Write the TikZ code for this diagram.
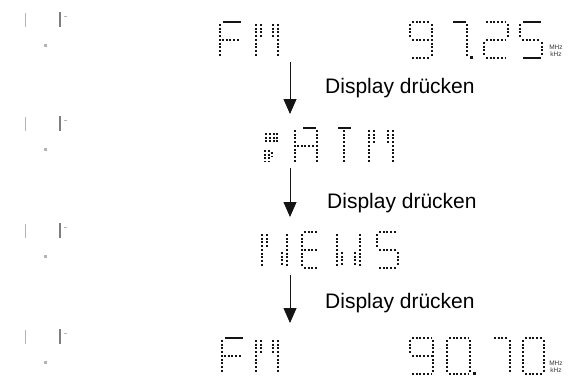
\documentclass[tikz,border=0pt]{standalone}
\usepackage{fontspec}
\setmainfont{Liberation Sans}
\usetikzlibrary{arrows.meta}
\definecolor{lcdInk}{HTML}{141414}
\definecolor{scanGray}{HTML}{B4B4B4}
\tikzset{
  lcddot/.style={lcdInk, line width=2pt, dash pattern=on 2pt off 1.7pt, shorten <=2pt, shorten >=2pt},
  lcdbar/.style={lcdInk, line width=2pt, shorten <=3pt, shorten >=1pt},
  steparr/.style={-{Triangle[length=15pt, width=13pt]}, lcdInk, line width=0.8pt},
  steplabel/.style={anchor=base west, font=\fontsize{21}{25}\selectfont, inner sep=0pt},
  unitlabel/.style={font=\fontsize{6.5}{6.5}\selectfont, align=center, inner sep=0pt, text=lcdInk!85},
}
% one dot-matrix character: x, top y, width, dotted segments, solid segments
\newcommand{\lcdchar}[5]{%
  \begin{scope}[shift={(#1,#2)}]
    \coordinate (tl) at (0,0);  \coordinate (tr) at (#3,0);
    \coordinate (ml) at (0,18); \coordinate (mr) at (#3,18);
    \coordinate (bl) at (0,36); \coordinate (br) at (#3,36);
    \coordinate (tli) at (5,0);  \coordinate (tri) at (#3-5,0);
    \coordinate (mli) at (5,18); \coordinate (mri) at (#3-5,18);
    \coordinate (bli) at (5,36); \coordinate (bri) at (#3-5,36);
    \coordinate (tc) at (#3/2,0); \coordinate (bc) at (#3/2,36);
    \foreach \p/\q in {#4}{\draw[lcddot] (\p) -- (\q);}
    \if\relax\detokenize{#5}\relax\else
      \foreach \p/\q in {#5}{\draw[lcdbar] (\p) -- (\q);}
    \fi
  \end{scope}}

\begin{document}
\begin{tikzpicture}[x=1pt, y=-1pt]
  \useasboundingbox (0,0) rectangle (580,376);
  \fill[white] (0,0) rectangle (580,376);

  % faint indicator marks on the left
  \foreach \y in {20,124,231,337}{
    \draw[scanGray, line width=0.6pt] (25,\y-7) -- (25,\y+7);
    \draw[scanGray!70!black, line width=1.3pt] (60,\y-8) -- (60,\y+7);
    \draw[scanGray, line width=0.6pt] (64,\y-4) -- (67,\y-4);
    \fill[scanGray] (44,\y+27) rectangle +(3,-3);}

  % FM 97.25
  \lcdchar{220}{22}{22}{tl/bl, ml/mr}{tl/tr}
  \lcdchar{256}{22}{22}{tl/bl, tr/br, tli/mli, tri/mri}{}
  \lcdchar{410}{22}{22}{tl/tr, tl/ml, ml/mr, tr/br, bl/br}{}
  \lcdchar{450}{22}{17}{tr/br}{tl/tr}
  \fill[lcdInk] (470,59) rectangle (473,56);
  \lcdchar{484}{22}{24}{tl/tr, tr/mr, ml/mr, ml/bl, bl/br}{}
  \lcdchar{520}{22}{22}{tl/ml, ml/mr, mr/br}{tl/tr, bl/br}
  \node[unitlabel] (unit1) at (556,51) {MHz\\kHz};

  % station name
  \foreach \x/\ya/\yb in {266/131/145, 270/131/145, 273.5/131/146, 277/131/146,
                         265/148/164, 268.5/148/164, 272/150/158}{
    \draw[lcddot] (\x,\ya) -- (\x,\yb);}
  \lcdchar{295}{128}{22}{tl/bl, tr/br, ml/mr}{tli/tr}
  \lcdchar{335}{128}{17}{tc/bc}{tl/tr}
  \lcdchar{369}{128}{24}{tl/bl, tr/br, tli/mli, tri/mri}{}

  % NEWS
  \lcdchar{262}{232}{25}{tl/bl, tr/br, tli/mli, mri/bri}{}
  \lcdchar{302}{232}{18}{tl/tr, tl/bl, ml/mr, bl/br}{}
  \lcdchar{337}{232}{23}{tl/bl, tr/br, mli/bli, mri/bri}{}
  \lcdchar{377}{232}{21}{tl/tr, tl/ml, ml/mr, mr/br, bl/br}{}

  % FM 90.70
  \lcdchar{222}{338}{22}{tl/bl, ml/mr}{tl/tr}
  \lcdchar{256}{338}{22}{tl/bl, tr/br, tli/mli, tri/mri}{}
  \lcdchar{410}{338}{23}{tl/tr, tl/ml, ml/mr, tr/br, bl/br}{}
  \lcdchar{447}{338}{23}{tl/tr, tl/bl, tr/br, bl/br}{}
  \fill[lcdInk] (473,375) rectangle (476,372);
  \lcdchar{492}{338}{18}{tl/tr, tr/br}{}
  \lcdchar{523}{338}{21}{tl/tr, tl/bl, tr/br, bl/br}{}
  \node[unitlabel] (unit4) at (556,367) {MHz\\kHz};

  % steps
  \coordinate (s1) at (290,62);  \coordinate (e1) at (290,114);
  \coordinate (s2) at (290,168); \coordinate (e2) at (290,217);
  \coordinate (s3) at (290,275); \coordinate (e3) at (290,323);
  \draw[steparr] (s1) -- (e1);
  \draw[steparr] (s2) -- (e2);
  \draw[steparr] (s3) -- (e3);
  \node[steplabel] (press1) at (325,93) {Display drücken};
  \node[steplabel] (press2) at (327,208) {Display drücken};
  \node[steplabel] (press3) at (325,308) {Display drücken};
\end{tikzpicture}
\end{document}
